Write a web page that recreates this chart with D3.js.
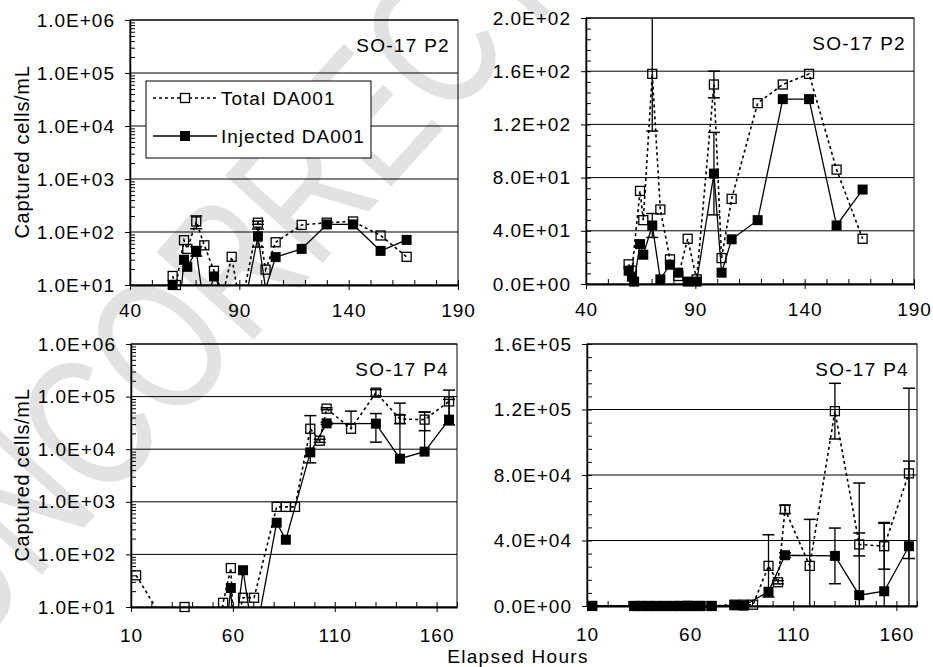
<!DOCTYPE html>
<html>
<head>
<meta charset="utf-8">
<script src="https://cdnjs.cloudflare.com/ajax/libs/d3/7.8.5/d3.min.js"></script>
<style>
  body { margin: 0; background: #fff; }
  text { font-family: "Liberation Sans", Arial, sans-serif; }
</style>
</head>
<body>
<script>
// ---- data ----
var hoursP2 = [59.5, 61, 62, 64.7, 66.2, 70.3, 74, 78.4, 82.2, 86.5, 90.6, 98.5, 102, 106.6, 118.5, 130, 142, 154.6, 166.5];
var totalP2 = [14.8, 10, null, 70, 48, 158, 56, 18.5, 6, 34, 3.5, 150, 19.5, 64, 136, 150, 158, 86, 34];
var injectedP2 = [10, 5.5, 1.8, 30, 22, 44, 3.5, 14.5, 8.5, 1.8, 1.8, 83, 8.5, 33.6, 48, 139, 139, 44, 71];
var totalP2Err = [null, null, null, null, null, 43, null, null, null, null, null, 10, null, null, null, null, null, null, null];
var injectedP2Err = [null, null, null, null, null, 9, null, null, null, null, null, 31, null, null, null, null, null, null, null];

var hoursP4 = [12.5, 33, 36.3, 40, 44, 48, 52, 55.2, 59, 60.5, 65, 70.4, 81.5, 86, 90.5, 98, 102.6, 106, 118, 130.2, 142, 154.1, 166.1];
var totalP4 = [40, 2, 10, 2, 2, 2, 2, 12, 55, 3, 15, 15, 800, 800, 800, 24500, 14500, 59000, 24500, 119000, 37600, 36500, 81000];
var injectedP4 = [1, 1, 1, 1, 1, 1, 1, 1, 23, 2, 50, 2, 400, 190, null, 8700, null, 31000, null, 30600, 6600, 9000, 36500];
var totalP4Err = [null, null, null, null, null, null, null, null, null, null, null, null, null, null, null, 19000, 1000, 2500, 28400, 17000, 7000, 14000, 52000];
var injectedP4Err = [null, null, null, null, null, null, null, null, null, null, null, null, null, null, null, null, null, 1500, null, 17000, 68500, 42000, 52000];

var logTicks = [1e1, 1e2, 1e3, 1e4, 1e5, 1e6];
var linTicksP2 = [0, 40, 80, 120, 160, 200];
var linTicksP4 = [0, 40000, 80000, 120000, 160000];
var xTicksTop = [40, 90, 140, 190];
var xTicksBottom = [10, 60, 110, 160];

var seriesNames = ["Total DA001", "Injected DA001"];

var W = 933, H = 667;
var svg = d3.select("body").append("svg").attr("width", W).attr("height", H);

// proof watermark behind the charts
svg.append("text")
    .attr("transform", "translate(-35,660) rotate(-48) scale(0.75,1)")
    .style("font-size", "190px")
    .style("fill", "#e2e2e2")
    .text("UNCORRECTED");

function fmtE(v) {
    var s = v.toExponential(1).toUpperCase();
    return s.replace(/E([+-])(\d)$/, "E$10$2");
}

function points(hours, vals, errs) {
    var out = [];
    hours.forEach(function (h, i) {
        if (vals[i] != null) out.push({h: h, v: vals[i], e: errs[i]});
    });
    return out;
}

var clipN = 0;

function panel(o) {
    var x = d3.scaleLinear().domain(o.xDomain).range([o.x0, o.x1]);
    var y = (o.log ? d3.scaleLog() : d3.scaleLinear()).domain([o.yTicks[0], o.yTicks[o.yTicks.length - 1]]).range([o.y1, o.y0]);
    var yMin = y.domain()[0], yMax = y.domain()[1];
    var g = svg.append("g");

    var id = "clip" + (clipN++);
    g.append("clipPath").attr("id", id).append("rect")
        .attr("x", o.x0).attr("y", o.y0).attr("width", o.x1 - o.x0).attr("height", o.y1 - o.y0);

    // gridlines
    g.selectAll(".grid").data(o.yTicks.slice(1)).enter().append("line")
        .attr("x1", o.x0).attr("x2", o.x1)
        .attr("y1", function (d) { return y(d); }).attr("y2", function (d) { return y(d); })
        .attr("stroke", "#000").attr("stroke-width", 1);

    var tot = points(o.hours, o.total, o.totalErr);
    var inj = points(o.hours, o.injected, o.injectedErr);

    var line = d3.line().x(function (d) { return x(d.h); }).y(function (d) { return y(d.v); });
    var plot = g.append("g").attr("clip-path", "url(#" + id + ")");

    plot.append("path").attr("d", line(tot)).attr("fill", "none")
        .attr("stroke", "#000").attr("stroke-width", 1.6).attr("stroke-dasharray", "3,3");
    plot.append("path").attr("d", line(inj)).attr("fill", "none")
        .attr("stroke", "#000").attr("stroke-width", 1.3);

    // error bars
    function errBars(data) {
        data.filter(function (d) { return d.e != null; }).forEach(function (d) {
            var px = x(d.h);
            var hi = d.v + d.e, lo = d.v - d.e;
            var yHi = y(Math.min(hi, yMax * 10));
            var yLo = (lo > 0 || !o.log) ? y(lo) : null;
            plot.append("line").attr("x1", px).attr("x2", px)
                .attr("y1", yHi).attr("y2", yLo == null ? y(d.v) : yLo)
                .attr("stroke", "#000").attr("stroke-width", 1.3);
            [yHi, yLo].forEach(function (yy) {
                if (yy == null) return;
                plot.append("line").attr("x1", px - 6).attr("x2", px + 6)
                    .attr("y1", yy).attr("y2", yy).attr("stroke", "#000").attr("stroke-width", 1.5);
            });
        });
    }
    errBars(tot);
    errBars(inj);

    function inRange(d) { return d.v >= yMin * 0.999 && d.v <= yMax; }

    g.selectAll(".tot").data(tot.filter(inRange)).enter().append("rect")
        .attr("x", function (d) { return x(d.h) - 4.5; })
        .attr("y", function (d) { return y(d.v) - 4.5; })
        .attr("width", 9).attr("height", 9)
        .attr("fill", "none").attr("stroke", "#000").attr("stroke-width", 1.3);
    g.selectAll(".inj").data(inj.filter(inRange)).enter().append("rect")
        .attr("x", function (d) { return x(d.h) - 5; })
        .attr("y", function (d) { return y(d.v) - 5; })
        .attr("width", 10).attr("height", 10)
        .attr("fill", "#000");

    // frame
    g.append("rect").attr("x", o.x0).attr("y", o.y0).attr("width", o.x1 - o.x0).attr("height", o.y1 - o.y0)
        .attr("fill", "none").attr("stroke", "#000").attr("stroke-width", 1);

    // minor ticks
    var yMinor = [];
    if (o.log) {
        for (var dec = yMin; dec < yMax; dec *= 10)
            for (var k = 2; k <= 9; k++) yMinor.push(dec * k);
    } else {
        for (var v = yMin; v <= yMax + 1e-9; v += o.yMinorStep) yMinor.push(v);
    }
    var xMinor = d3.range(o.xDomain[0], o.xDomain[1] + 0.001, 10);

    g.append("g").attr("transform", "translate(" + o.x0 + ",0)")
        .call(d3.axisRight(y).tickValues(yMinor).tickSize(5).tickSizeOuter(0).tickFormat(""))
        .call(function (a) { a.select(".domain").remove(); });
    g.append("g").attr("transform", "translate(0," + o.y1 + ")")
        .call(d3.axisTop(x).tickValues(xMinor).tickSize(5).tickSizeOuter(0).tickFormat(""))
        .call(function (a) { a.select(".domain").remove(); });

    var ya = g.append("g").attr("transform", "translate(" + o.x0 + ",0)")
        .call(d3.axisLeft(y).tickValues(o.yTicks).tickFormat(fmtE).tickSize(5).tickSizeOuter(0).tickPadding(10));
    ya.attr("font-size", 19).attr("font-family", null);
    ya.selectAll("text").style("letter-spacing", "1px");
    ya.select(".domain").attr("stroke-width", 1.5);

    var xa = g.append("g").attr("transform", "translate(0," + o.y1 + ")")
        .call(d3.axisBottom(x).tickValues(o.xTicks).tickSize(5).tickSizeOuter(0).tickPadding(o.xPad));
    xa.attr("font-size", 19).attr("font-family", null);
    xa.selectAll("text").style("letter-spacing", "1px");
    xa.select(".domain").attr("stroke-width", 2);

    g.append("text").attr("x", o.x1 - 8).attr("y", o.y0 + 32)
        .attr("text-anchor", "end").style("font-size", "19px").style("letter-spacing", "1.3px").text(o.title);

    return {x: x, y: y};
}

panel({x0: 130, x1: 458, y0: 20, y1: 285, xDomain: [40, 190], xTicks: xTicksTop, xPad: 14,
    log: true, yTicks: logTicks, title: "SO-17 P2",
    hours: hoursP2, total: totalP2, injected: injectedP2, totalErr: totalP2Err, injectedErr: injectedP2Err});
panel({x0: 586, x1: 914, y0: 18, y1: 284, xDomain: [40, 190], xTicks: xTicksTop, xPad: 14,
    log: false, yTicks: linTicksP2, yMinorStep: 8, title: "SO-17 P2",
    hours: hoursP2, total: totalP2, injected: injectedP2, totalErr: totalP2Err, injectedErr: injectedP2Err});
panel({x0: 131, x1: 457, y0: 344, y1: 607, xDomain: [10, 170], xTicks: xTicksBottom, xPad: 17,
    log: true, yTicks: logTicks, title: "SO-17 P4",
    hours: hoursP4, total: totalP4, injected: injectedP4, totalErr: totalP4Err, injectedErr: injectedP4Err});
panel({x0: 587, x1: 917, y0: 344, y1: 606, xDomain: [10, 170], xTicks: xTicksBottom, xPad: 17,
    log: false, yTicks: linTicksP4, yMinorStep: 8000, title: "SO-17 P4",
    hours: hoursP4, total: totalP4, injected: injectedP4, totalErr: totalP4Err, injectedErr: injectedP4Err});

// axis titles
[152, 475].forEach(function (cy) {
    svg.append("text").attr("transform", "translate(29," + cy + ") rotate(-90)")
        .attr("text-anchor", "middle").style("font-size", "20px").style("letter-spacing", "0.7px")
        .text("Captured cells/mL");
});
svg.append("text").attr("x", 518).attr("y", 663).attr("text-anchor", "middle")
    .style("font-size", "19px").style("letter-spacing", "1.3px").text("Elapsed Hours");

// legend
var lg = svg.append("g");
lg.append("rect").attr("x", 146).attr("y", 81).attr("width", 225).attr("height", 77)
    .attr("fill", "#fff").attr("stroke", "#000").attr("stroke-width", 1);
[98, 136].forEach(function (cy, i) {
    lg.append("line").attr("x1", 153).attr("x2", 217).attr("y1", cy).attr("y2", cy)
        .attr("stroke", "#000").attr("stroke-width", i ? 1.3 : 1.6)
        .attr("stroke-dasharray", i ? null : "3,3");
    if (i) {
        lg.append("rect").attr("x", 180).attr("y", cy - 5).attr("width", 10).attr("height", 10).attr("fill", "#000");
    } else {
        lg.append("rect").attr("x", 180.5).attr("y", cy - 4.5).attr("width", 9).attr("height", 9)
            .attr("fill", "#fff").attr("stroke", "#000").attr("stroke-width", 1.3);
    }
    lg.append("text").attr("x", 221).attr("y", cy + 7).style("font-size", "19px")
        .style("letter-spacing", "1px").text(seriesNames[i]);
});
</script>
</body>
</html>
